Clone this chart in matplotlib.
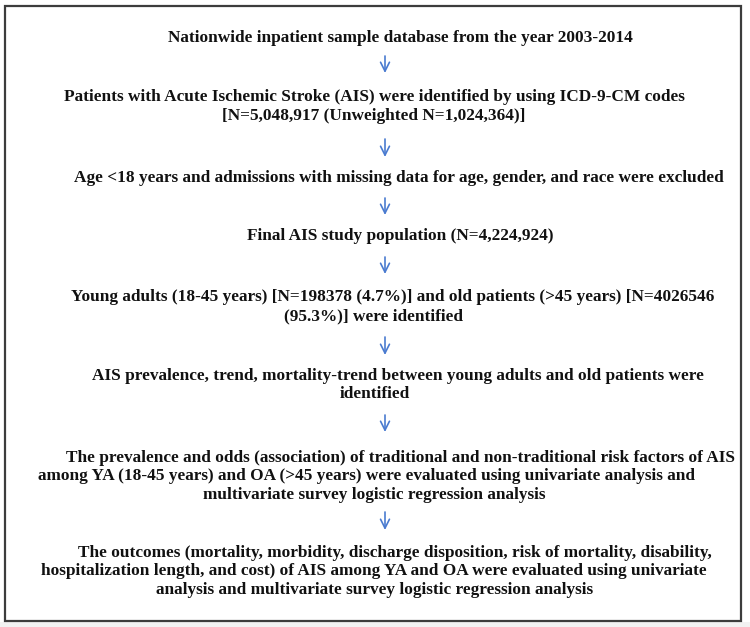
import matplotlib
matplotlib.use("Agg")
import matplotlib.pyplot as plt
from matplotlib.patches import Rectangle

# Flowchart text, one entry per printed line
lines = [
    "Nationwide inpatient sample database from the year 2003-2014",
    "Patients with Acute Ischemic Stroke (AIS) were identified by using ICD-9-CM codes",
    "[N=5,048,917 (Unweighted N=1,024,364)]",
    "Age <18 years and admissions with missing data for age, gender, and race were excluded",
    "Final AIS study population (N=4,224,924)",
    "Young adults (18-45 years) [N=198378 (4.7%)] and old patients (>45 years) [N=4026546",
    "(95.3%)] were identified",
    "AIS prevalence, trend, mortality-trend between young adults and old patients were",
    "identified",
    "The prevalence and odds (association) of traditional and non-traditional risk factors of AIS",
    "among YA (18-45 years) and OA (>45 years) were evaluated using univariate analysis and",
    "multivariate survey logistic regression analysis",
    "The outcomes (mortality, morbidity, discharge disposition, risk of mortality, disability,",
    "hospitalization length, and cost) of AIS among YA and OA were evaluated using univariate",
    "analysis and multivariate survey logistic regression analysis",
]
# centre x and y of each line, in pixels
line_x = [400, 374, 374, 399, 400, 393, 373, 398, 375, 400, 367, 374, 395, 374, 375]
line_y = [38, 97, 116, 178, 236, 297, 316, 376, 394, 458, 476, 495, 553, 571, 590]

# arrows between steps (top, bottom)
arrow_x = 385
arrow_top = [56, 139, 198, 257, 337, 415, 512]
arrow_bot = [73, 157, 215, 274, 355, 432, 530]

W, H = 750, 627
fig = plt.figure(figsize=(W / 100, H / 100), dpi=100)
ax = fig.add_axes([0, 0, 1, 1])
ax.set_xlim(0, W)
ax.set_ylim(H, 0)
ax.axis("off")

ax.add_patch(Rectangle((0, 622), W, H - 622, color="#f2f2f2", lw=0))
ax.add_patch(Rectangle((5, 6), 736, 615, facecolor="white",
                       edgecolor="#3c3c3c", lw=1.6))

for t, x, y in zip(lines, line_x, line_y):
    ax.text(x, y, t, ha="center", va="center", fontsize=12.4,
            fontweight="bold", family="Liberation Serif", color="#111111")

for a, b in zip(arrow_top, arrow_bot):
    ax.annotate("", xy=(arrow_x, b), xytext=(arrow_x, a),
                arrowprops=dict(arrowstyle="->", color="#4a7bd0", lw=1.2,
                                mutation_scale=16, shrinkA=0, shrinkB=0))

fig.savefig("out.png", dpi=100)
